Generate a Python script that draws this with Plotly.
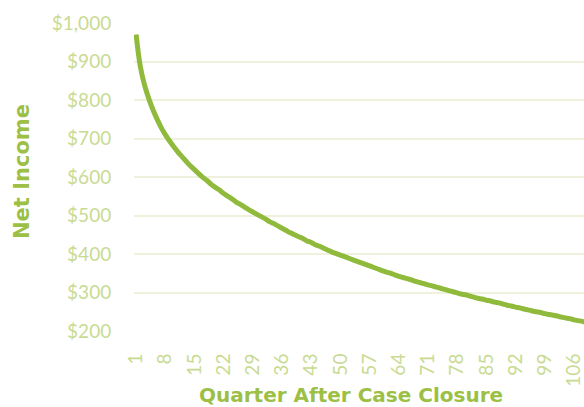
import plotly.graph_objects as go

quarters = list(range(1, 111))
net_income = [
    970, 888, 840, 805, 776, 751, 729, 710, 694, 679,
    665, 653, 641, 629, 619, 609, 599, 591, 581, 573,
    566, 557, 550, 543, 535, 529, 522, 515, 509, 503,
    497, 491, 484, 479, 473, 467, 461, 455, 450, 445,
    440, 434, 430, 424, 420, 415, 410, 405, 401, 397,
    393, 389, 385, 381, 377, 373, 369, 365, 361, 357,
    353, 350, 346, 342, 339, 336, 333, 329, 326, 323,
    320, 317, 314, 311, 308, 305, 302, 299, 296, 294,
    291, 288, 285, 283, 280, 278, 275, 273, 270, 267,
    265, 262, 260, 257, 255, 252, 250, 248, 245, 243,
    241, 239, 236, 234, 232, 229, 227, 225, 222, 219,
]
x_tick_vals = list(range(1, 107, 7))
y_tick_vals = [200, 300, 400, 500, 600, 700, 800, 900, 1000]
y_tick_text = ["$200", "$300", "$400", "$500", "$600", "$700", "$800", "$900", "$1,000"]

LINE = "#8FBA3B"
TITLE = "#9CBF45"
TICK = "#C9DB93"
GRID = "#EFF1DC"

fig = go.Figure()
fig.add_trace(go.Scatter(
    x=quarters, y=net_income, mode="lines",
    line=dict(color=LINE, width=5, shape="spline", smoothing=1.0),
    hoverinfo="skip", showlegend=False,
))

fig.update_layout(
    width=584, height=407,
    margin=dict(l=134, r=0, t=23, b=76),
    paper_bgcolor="white", plot_bgcolor="white",
    font=dict(family="Lato, sans-serif", color=TICK, size=19),
    xaxis=dict(
        range=[0.5, 108.4], tickmode="array", tickvals=x_tick_vals,
        ticktext=[str(v) for v in x_tick_vals], tickangle=-90,
        ticklabeloverflow="allow",
        showgrid=False, zeroline=False, showline=False,
        ticks="outside", ticklen=14, tickcolor="rgba(0,0,0,0)",
        tickfont=dict(size=19, color=TICK, family="Lato, sans-serif"),
    ),
    yaxis=dict(
        range=[200, 1000], tickmode="array", tickvals=y_tick_vals, ticktext=y_tick_text,
        showgrid=True, gridcolor=GRID, gridwidth=2, zeroline=False, showline=False,
        ticks="outside", ticklen=18, tickcolor="rgba(0,0,0,0)",
        tickfont=dict(size=19, color=TICK, family="Lato, sans-serif"),
    ),
    annotations=[
        dict(text="Quarter After Case Closure", xref="paper", yref="paper",
             x=(351 - 134) / 450, y=(407 - 76 - 395) / 308, xanchor="center", yanchor="middle",
             showarrow=False, font=dict(family="DejaVu Sans", size=20, color=TITLE, weight="bold")),
        dict(text="Net Income", xref="paper", yref="paper", textangle=-90,
             x=(22 - 134) / 450, y=(331 - 172) / 308, xanchor="center", yanchor="middle",
             showarrow=False, font=dict(family="DejaVu Sans", size=21, color=TITLE, weight="bold")),
    ],
)

fig.write_html("out.html")
